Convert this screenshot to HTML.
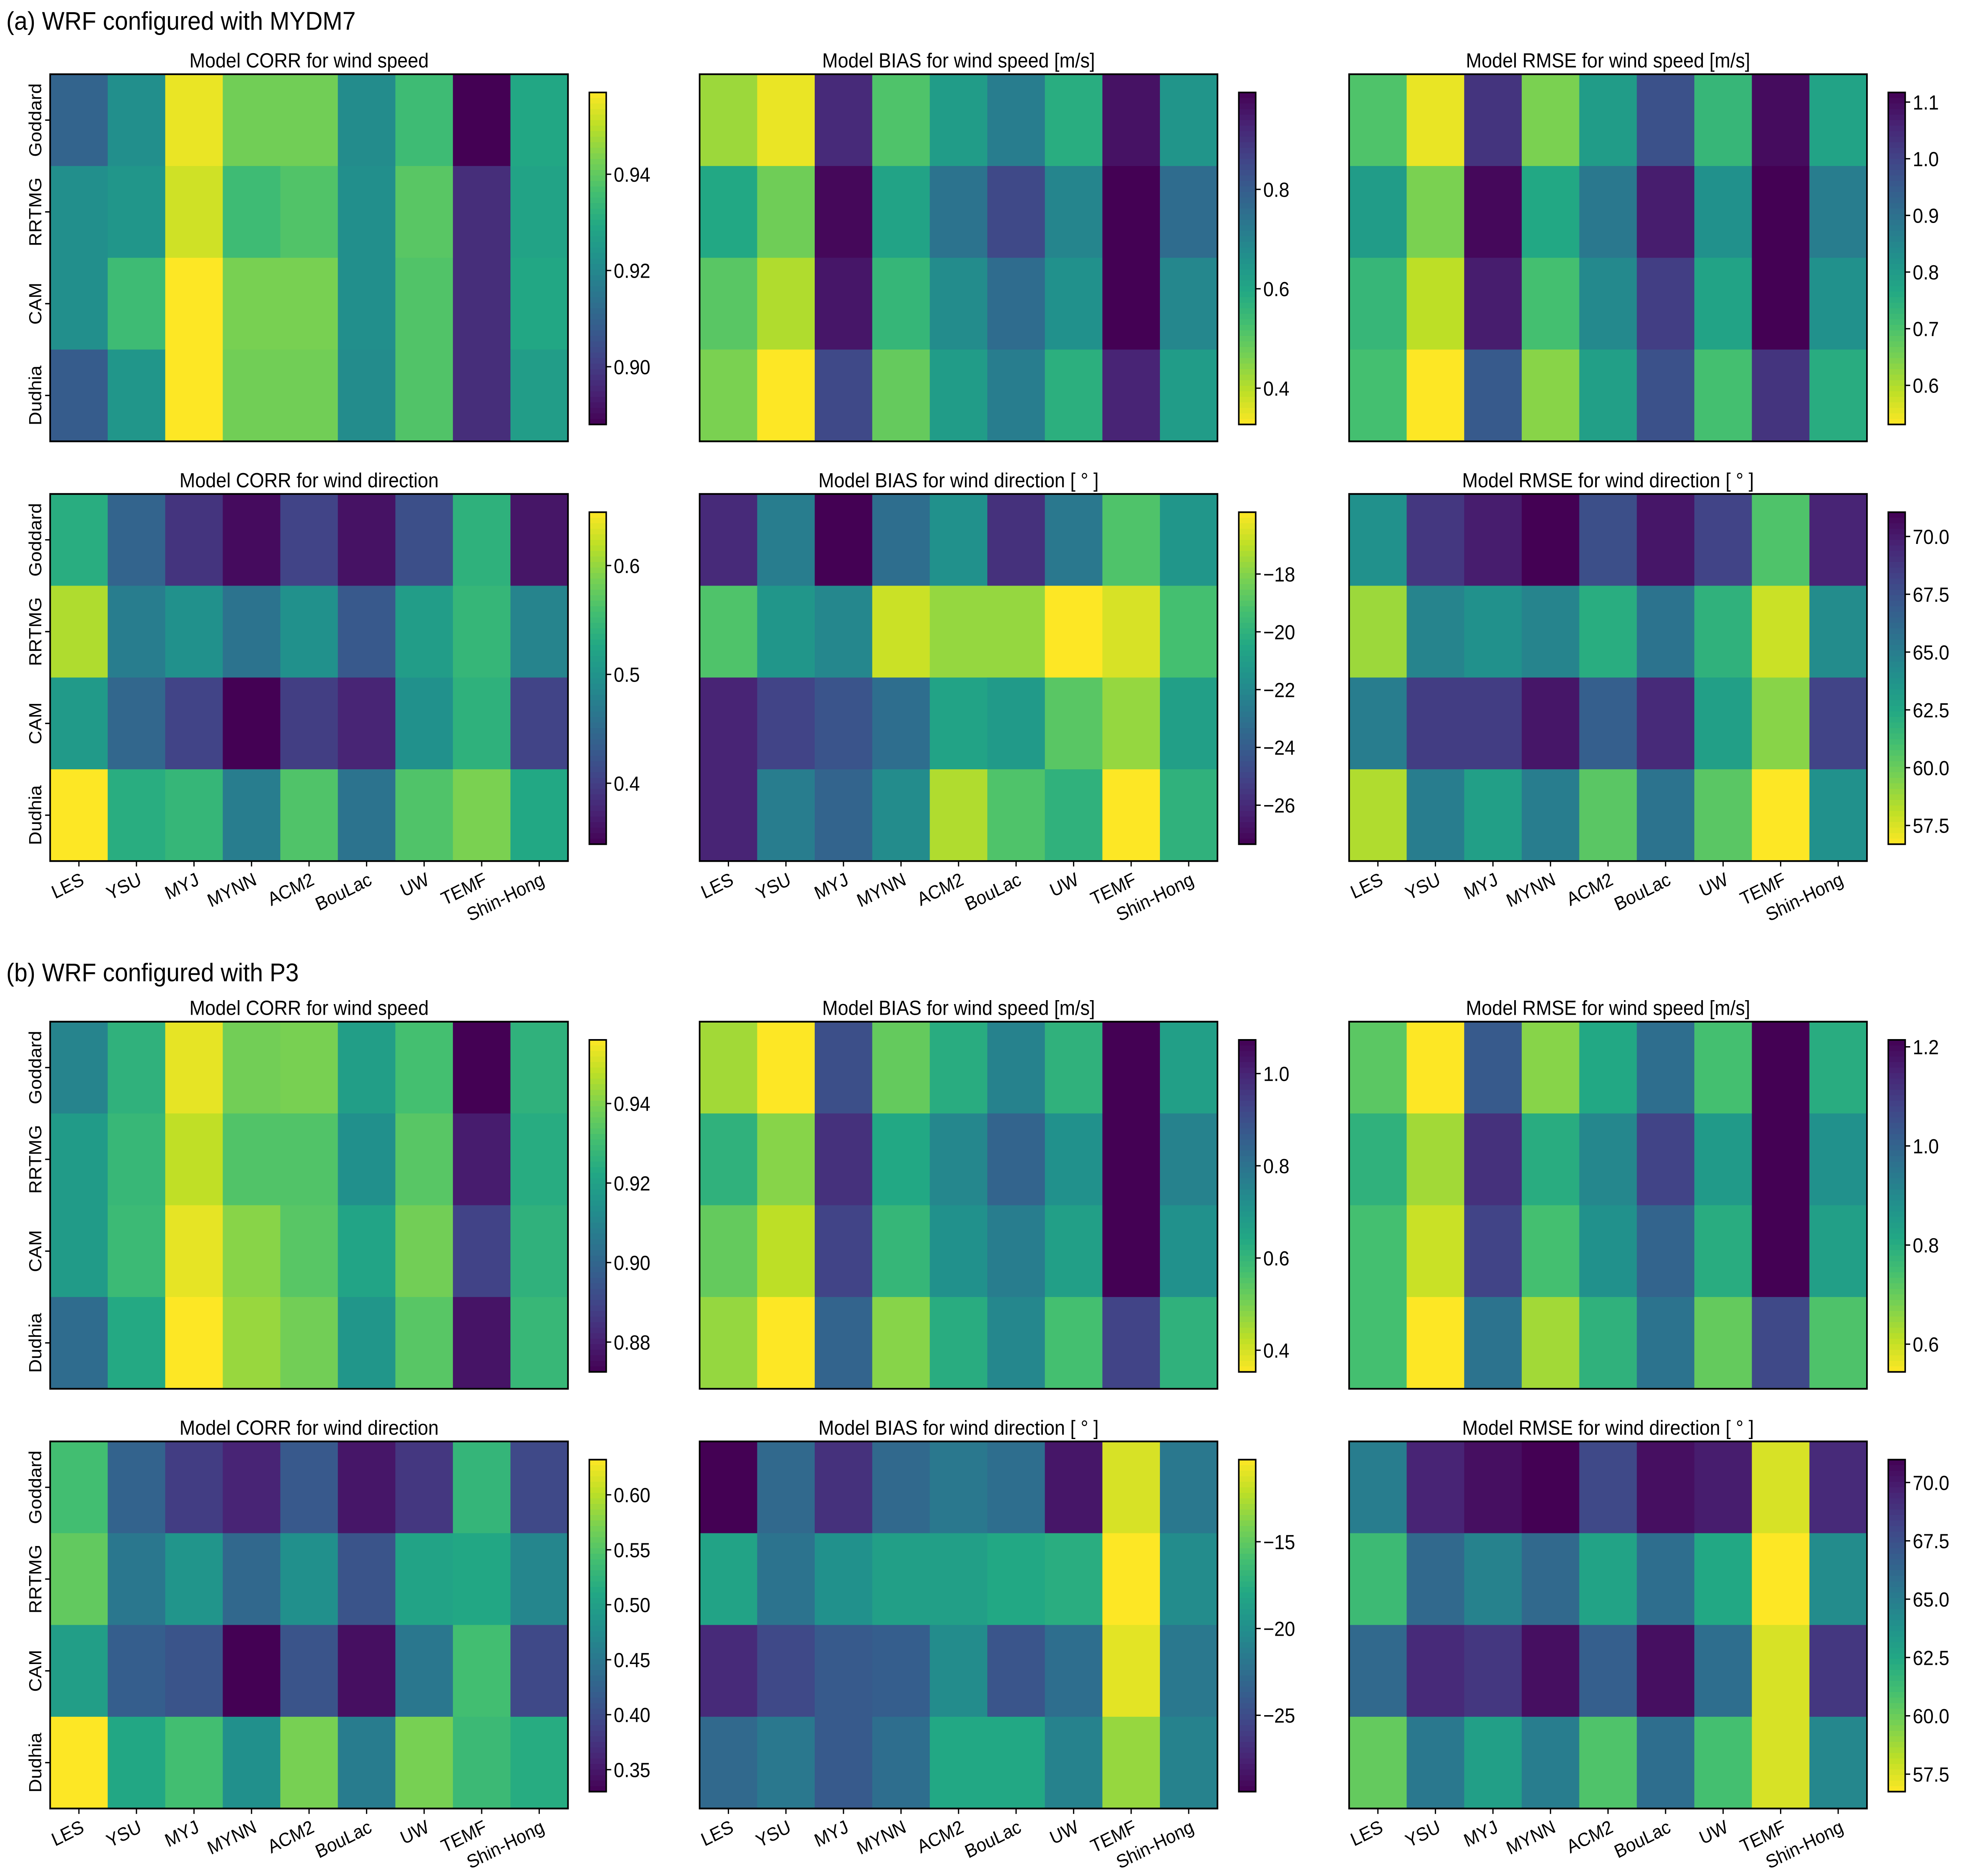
<!DOCTYPE html>
<html><head><meta charset="utf-8"><style>
html,body{margin:0;padding:0;background:#fff;overflow:hidden;width:100%;height:100%;}
svg{display:block;position:fixed;left:0;top:0;width:100vw;height:100vh;}
text{font-family:"Liberation Sans",sans-serif;fill:#000;}
</style></head><body>
<svg id="fig" viewBox="0 0 1568 1390" preserveAspectRatio="none" xmlns="http://www.w3.org/2000/svg">
<text x="5" y="22" font-size="19">(a) WRF configured with MYDM7</text>
<text x="5" y="727" font-size="19">(b) WRF configured with P3</text>
</svg>
<script>
const rowLabels = ["Goddard","RRTMG","CAM","Dudhia"];
const colLabels = ["LES","YSU","MYJ","MYNN","ACM2","BouLac","UW","TEMF","Shin-Hong"];

const corrSpeedA = [[.910,.922,.955,.942,.942,.921,.935,.888,.929],[.922,.924,.952,.935,.938,.922,.939,.897,.928],[.922,.935,.957,.943,.943,.922,.938,.897,.929],[.908,.924,.957,.942,.942,.921,.938,.897,.926]];
const biasSpeedA = [[.427,.347,.915,.514,.628,.714,.581,.962,.648],[.594,.474,.982,.608,.741,.848,.694,.995,.761],[.501,.407,.955,.554,.674,.761,.661,.995,.688],[.461,.327,.848,.487,.628,.714,.574,.928,.628]];
const rmseSpeedA = [[.695,.549,1.029,.648,.795,.971,.730,1.099,.777],[.795,.648,1.105,.765,.883,1.07,.824,1.117,.871],[.730,.590,1.07,.707,.842,1.011,.777,1.117,.824],[.707,.531,.953,.636,.789,.971,.707,1.029,.754]];
const corrDirA = [[.533,.442,.390,.353,.405,.359,.417,.539,.362],[.612,.472,.497,.460,.497,.429,.512,.545,.481],[.509,.445,.405,.344,.399,.375,.497,.539,.405],[.649,.533,.545,.472,.564,.460,.564,.588,.527]];
const biasDirA = [[-25.97,-22.52,-27.35,-23.21,-21.6,-25.74,-22.75,-19.08,-21.37],[-19.08,-21.37,-22.06,-16.78,-17.7,-17.7,-15.86,-16.55,-19.31],[-26.2,-25.05,-24.36,-23.21,-20.69,-21.15,-18.85,-17.7,-20.92],[-26.2,-22.52,-23.67,-21.83,-17.24,-19.08,-19.99,-15.86,-19.99]];
const rmseDirA = [[63.87,68.75,69.9,71.05,67.6,70.19,68.18,60.71,69.61],[58.84,64.59,63.87,64.59,62.15,65.59,61.86,57.84,64.16],[65.02,68.47,68.47,70.19,66.74,69.33,63.01,59.27,68.18],[58.41,65.02,63.01,65.02,60.42,65.59,60.42,56.69,63.87]];
const corrSpeedB = [[.910,.926,.953,.938,.939,.919,.931,.8725,.926],[.918,.928,.948,.933,.933,.914,.934,.879,.924],[.918,.929,.953,.941,.934,.921,.938,.889,.926],[.902,.923,.956,.943,.938,.916,.934,.877,.928]];
const biasSpeedB = [[.454,.353,.900,.526,.627,.756,.612,1.073,.670],[.612,.483,.972,.641,.742,.843,.713,1.073,.756],[.526,.425,.929,.598,.713,.771,.670,1.073,.713],[.468,.353,.843,.483,.627,.742,.569,.929,.612]];
const rmseSpeedB = [[.716,.544,1.026,.665,.812,.973,.745,1.214,.799],[.785,.638,1.12,.799,.906,1.08,.852,1.214,.879],[.745,.598,1.08,.745,.879,1.0,.799,1.214,.839],[.745,.544,.959,.638,.785,.959,.705,1.067,.732]];
const corrDirB = [[.540,.426,.384,.360,.414,.348,.378,.528,.396],[.558,.450,.486,.432,.480,.408,.504,.510,.468],[.498,.420,.408,.330,.408,.342,.450,.540,.396],[.632,.510,.540,.480,.570,.456,.570,.534,.516]];
const biasDirB = [[-29.4,-22.9,-26.7,-22.9,-21.75,-22.5,-28.25,-11.42,-21.75],[-18.3,-22.1,-19.8,-18.7,-18.7,-17.9,-17.5,-10.27,-20.2],[-27.1,-25.2,-24.0,-23.7,-20.2,-24.4,-22.5,-11.04,-21.75],[-22.9,-21.75,-24.0,-22.5,-17.9,-17.9,-21.0,-13.3,-21.0]];
const rmseDirB = [[65.0,69.56,70.41,70.98,67.85,70.41,69.84,57.6,69.27],[61.3,66.14,64.72,66.14,62.73,65.86,62.44,56.75,64.15],[66.14,69.27,68.7,70.41,66.71,70.41,65.86,57.6,68.7],[60.17,65.29,63.01,65.0,60.74,65.86,61.02,57.6,64.44]];

const ticksCorrSpeedA = [0.90,0.92,0.94];
const ticksBiasSpeedA = [0.4,0.6,0.8];
const ticksRmseSpeedA = [0.6,0.7,0.8,0.9,1.0,1.1];
const ticksCorrDirA = [0.4,0.5,0.6];
const ticksBiasDirA = [-26,-24,-22,-20,-18];
const ticksRmseDirA = [57.5,60,62.5,65,67.5,70];
const ticksCorrSpeedB = [0.88,0.90,0.92,0.94];
const ticksBiasSpeedB = [0.4,0.6,0.8,1.0];
const ticksRmseSpeedB = [0.6,0.8,1.0,1.2];
const ticksCorrDirB = [0.35,0.40,0.45,0.50,0.55,0.60];
const ticksBiasDirB = [-25,-20,-15];
const ticksRmseDirB = [57.5,60,62.5,65,67.5,70];

const VIR = ["#440154","#482475","#414487","#355f8d","#2a788e","#21918c","#22a884","#44bf70","#7ad151","#bddf26","#fde725"];
function hex(h){return [parseInt(h.substr(1,2),16),parseInt(h.substr(3,2),16),parseInt(h.substr(5,2),16)];}
function viridis(t){t=Math.max(0,Math.min(1,t));const p=t*10,i=Math.min(9,Math.floor(p)),f=p-i;const a=hex(VIR[i]),b=hex(VIR[i+1]);return "rgb("+a.map((v,k)=>Math.round(v+(b[k]-v)*f)).join(",")+")";}
const NS="http://www.w3.org/2000/svg";
const svg=document.getElementById('fig');
function mk(tag,attrs,parent){const e=document.createElementNS(NS,tag);for(const k in attrs)e.setAttribute(k,attrs[k]);(parent||svg).appendChild(e);return e;}
function fmt(v,dec){return (v<0?"\u2212":"")+Math.abs(v).toFixed(dec);}

const colX=[40,558,1076], W=413, H=272;
const rowY=[55,366,757,1068];
const panels=[
 {r:0,c:0,d:corrSpeedA,t:ticksCorrSpeedA,rev:false,dec:2,title:"Model CORR for wind speed"},
 {r:0,c:1,d:biasSpeedA,t:ticksBiasSpeedA,rev:true,dec:1,title:"Model BIAS for wind speed [m/s]"},
 {r:0,c:2,d:rmseSpeedA,t:ticksRmseSpeedA,rev:true,dec:1,title:"Model RMSE for wind speed [m/s]"},
 {r:1,c:0,d:corrDirA,t:ticksCorrDirA,rev:false,dec:1,title:"Model CORR for wind direction"},
 {r:1,c:1,d:biasDirA,t:ticksBiasDirA,rev:false,dec:0,title:"Model BIAS for wind direction [ ° ]"},
 {r:1,c:2,d:rmseDirA,t:ticksRmseDirA,rev:true,dec:1,title:"Model RMSE for wind direction [ ° ]"},
 {r:2,c:0,d:corrSpeedB,t:ticksCorrSpeedB,rev:false,dec:2,title:"Model CORR for wind speed"},
 {r:2,c:1,d:biasSpeedB,t:ticksBiasSpeedB,rev:true,dec:1,title:"Model BIAS for wind speed [m/s]"},
 {r:2,c:2,d:rmseSpeedB,t:ticksRmseSpeedB,rev:true,dec:1,title:"Model RMSE for wind speed [m/s]"},
 {r:3,c:0,d:corrDirB,t:ticksCorrDirB,rev:false,dec:2,title:"Model CORR for wind direction"},
 {r:3,c:1,d:biasDirB,t:ticksBiasDirB,rev:false,dec:0,title:"Model BIAS for wind direction [ ° ]"},
 {r:3,c:2,d:rmseDirB,t:ticksRmseDirB,rev:true,dec:1,title:"Model RMSE for wind direction [ ° ]"}
];
panels.forEach((p,pi)=>{
  const x0=colX[p.c], y0=rowY[p.r];
  const g=mk('g',{});
  
  
  const flat=p.d.flat(); const vmin=Math.min(...flat), vmax=Math.max(...flat);
  const norm=v=>{let t=(v-vmin)/(vmax-vmin);return p.rev?1-t:t;};
  const cw=W/9, ch=H/4;
  p.d.forEach((row,ri)=>row.forEach((v,ci)=>{
    const r=mk('rect',{x:x0+ci*cw,y:y0+ri*ch,width:cw+0.4,height:ch+0.4,fill:viridis(norm(v))},g);
    
    
  }));
  const fr=mk('rect',{x:x0,y:y0,width:W,height:H,fill:'none',stroke:'#000','stroke-width':1.3},g);
  
  
  const tt=mk('text',{x:x0+W/2,y:y0-5,'font-size':15,'text-anchor':'middle'},g);
  tt.textContent=p.title;
  
  
  if(p.c===0){rowLabels.forEach((lab,ri)=>{
    const cy=y0+ri*ch+ch/2, tx=33;
    mk('line',{x1:x0,y1:cy,x2:x0-4,y2:cy,stroke:'#000','stroke-width':1},g);
    const t=mk('text',{x:tx,y:cy,'font-size':14,'text-anchor':'middle',transform:`rotate(-90 ${tx} ${cy})`},g);
    t.textContent=lab;
    
    
  });}
  if(p.r===1||p.r===3){colLabels.forEach((lab,ci)=>{
    const cx=x0+ci*cw+cw/2;
    mk('line',{x1:cx,y1:y0+H,x2:cx,y2:y0+H+4,stroke:'#000','stroke-width':1},g);
    const ax=cx+5, ay=y0+H+17;
    const t=mk('text',{x:ax,y:ay,'font-size':14,'text-anchor':'end',transform:`rotate(-25 ${ax} ${ay})`},g);
    t.textContent=lab;
    
    
  });}
  const bx=colX[p.c]+W+17, by=y0+13.5, bw=13.5, bh=246;
  const cb=mk('g',{},g);
  
  
  const N=60;
  for(let k=0;k<N;k++){
    const t=1-(k+0.5)/N;
    const tc=p.rev?1-t:t;
    mk('rect',{x:bx,y:by+k*bh/N,width:bw,height:bh/N+0.5,fill:viridis(tc)},cb);
  }
  mk('rect',{x:bx,y:by,width:bw,height:bh,fill:'none',stroke:'#000','stroke-width':1.2},cb);
  const yv=v=>by+bh*(1-(v-vmin)/(vmax-vmin));
  p.t.forEach(v=>{
    const y=yv(v); if(y<by-1||y>by+bh+1)return;
    mk('line',{x1:bx+bw,y1:y,x2:bx+bw+4,y2:y,stroke:'#000','stroke-width':1},cb);
    const t=mk('text',{x:bx+bw+6,y:y+5.5,'font-size':15},cb);
    t.textContent=fmt(v,p.dec);
    
    
  });
});
</script>
</body></html>
